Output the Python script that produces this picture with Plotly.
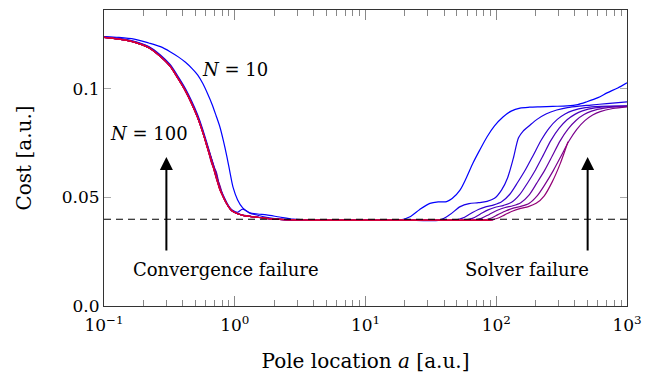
import plotly.graph_objects as go
import math

# ---------------- data ----------------
N_VALUES = [10, 20, 30, 40, 50, 60, 70, 80, 90, 100]

LEFT_A = [0.1, 0.13, 0.17, 0.22, 0.27, 0.32, 0.37, 0.42, 0.47, 0.52, 0.57, 0.62, 0.67,
          0.72, 0.77, 0.82, 0.87, 0.92, 0.97, 1.05, 1.15, 1.3, 1.5, 1.75, 2.2, 2.8, 4, 6, 10]

LEFT_C = {
    10: [0.1242, 0.1238, 0.1230, 0.1212, 0.1195, 0.1172, 0.1148, 0.1123, 0.1095, 0.1065, 0.1025, 0.0978, 0.0930,
         0.0877, 0.0825, 0.0760, 0.0690, 0.0615, 0.0548, 0.0490, 0.0452, 0.0430, 0.0424, 0.0420, 0.0410, 0.0400, 0.0396, 0.0396, 0.0396],
    20: [0.1240, 0.1233, 0.1220, 0.1196, 0.1157, 0.1113, 0.1056, 0.1001, 0.0942, 0.0881, 0.0813, 0.0740, 0.0672,
         0.0608, 0.0548, 0.0508, 0.0476, 0.0452, 0.0440, 0.0432, 0.0446, 0.0428, 0.0418, 0.0408, 0.0400, 0.0397, 0.0396, 0.0396, 0.0396],
    30: [0.1239, 0.1232, 0.1218, 0.1193, 0.1153, 0.1109, 0.1051, 0.0996, 0.0936, 0.0875, 0.0806, 0.0733, 0.0666,
         0.0602, 0.0541, 0.0504, 0.0473, 0.0450, 0.0437, 0.0427, 0.0419, 0.0414, 0.0409, 0.0404, 0.0399, 0.0397, 0.0396, 0.0396, 0.0396],
    40: [0.1238, 0.1231, 0.1217, 0.1191, 0.1151, 0.1107, 0.1049, 0.0993, 0.0933, 0.0871, 0.0802, 0.0729, 0.0672,
         0.0612, 0.0538, 0.0502, 0.0471, 0.0449, 0.0436, 0.0426, 0.0418, 0.0413, 0.0409, 0.0404, 0.0399, 0.0397, 0.0396, 0.0396, 0.0396],
    50: [0.1238, 0.1230, 0.1216, 0.1190, 0.1150, 0.1106, 0.1047, 0.0991, 0.0931, 0.0869, 0.0800, 0.0727, 0.0652,
         0.0620, 0.0545, 0.0501, 0.0470, 0.0448, 0.0435, 0.0425, 0.0418, 0.0413, 0.0409, 0.0404, 0.0399, 0.0397, 0.0396, 0.0396, 0.0396],
    60: [0.1238, 0.1230, 0.1216, 0.1190, 0.1149, 0.1105, 0.1046, 0.0990, 0.0930, 0.0868, 0.0799, 0.0736, 0.0668,
         0.0597, 0.0555, 0.0500, 0.0470, 0.0448, 0.0435, 0.0425, 0.0418, 0.0413, 0.0409, 0.0404, 0.0399, 0.0397, 0.0396, 0.0396, 0.0396],
    70: [0.1238, 0.1230, 0.1216, 0.1190, 0.1149, 0.1105, 0.1046, 0.0990, 0.0930, 0.0868, 0.0799, 0.0725, 0.0663,
         0.0590, 0.0540, 0.0500, 0.0470, 0.0448, 0.0435, 0.0425, 0.0418, 0.0413, 0.0409, 0.0404, 0.0399, 0.0397, 0.0396, 0.0396, 0.0396],
    80: [0.1238, 0.1230, 0.1216, 0.1190, 0.1149, 0.1104, 0.1046, 0.0990, 0.0930, 0.0868, 0.0799, 0.0725, 0.0658,
         0.0595, 0.0535, 0.0500, 0.0470, 0.0448, 0.0435, 0.0425, 0.0418, 0.0413, 0.0409, 0.0404, 0.0399, 0.0397, 0.0396, 0.0396, 0.0396],
    90: [0.1238, 0.1230, 0.1216, 0.1190, 0.1149, 0.1104, 0.1046, 0.0990, 0.0930, 0.0868, 0.0799, 0.0725, 0.0658,
         0.0595, 0.0535, 0.0500, 0.0470, 0.0448, 0.0435, 0.0425, 0.0418, 0.0413, 0.0409, 0.0404, 0.0399, 0.0397, 0.0396, 0.0396, 0.0396],
    100: [0.1238, 0.1230, 0.1216, 0.1190, 0.1149, 0.1105, 0.1046, 0.0990, 0.0930, 0.0868, 0.0799, 0.0725, 0.0658,
          0.0595, 0.0535, 0.0500, 0.0470, 0.0448, 0.0435, 0.0425, 0.0418, 0.0413, 0.0409, 0.0404, 0.0399, 0.0397, 0.0396, 0.0396, 0.0396],
}

RIGHT_A = {
    10: [15, 18.4, 21.9, 26, 31.1, 36, 41.7, 46, 52.8, 59, 66.4, 75, 84.9, 97, 112.6, 130, 152, 180, 216, 270, 348, 420,
         493, 600, 703, 850, 1000],
    20: [20, 37, 44, 53, 62, 73, 85, 97, 110, 122, 135, 148, 160, 180, 205, 240, 290, 350, 430, 530, 700, 1000],
    30: [20, 48, 55.2, 63.4, 73, 84, 96, 110, 127, 146, 168, 192, 221, 254, 293, 336, 384, 480, 624, 1000],
    40: [20, 57, 65.6, 75.2, 86.6, 99.8, 114, 131, 151, 174, 200, 228, 262, 302, 348, 399, 456, 570, 741, 1000],
    50: [20, 67, 77, 88.4, 102, 117, 134, 154, 178, 204, 235, 268, 308, 355, 409, 469, 536, 670, 871, 1000],
    60: [20, 78, 89.7, 103, 119, 137, 156, 179, 207, 238, 273, 312, 359, 413, 476, 546, 624, 780, 1000],
    70: [20, 88, 101, 116, 134, 154, 176, 202, 233, 268, 308, 354],
    80: [20, 40, 70, 95],
    90: [20, 40, 70, 92],
    100: [20, 40, 70, 90],
}

RIGHT_C = {
    10: [0.0396, 0.0396, 0.0411, 0.0445, 0.0473, 0.0480, 0.0481, 0.0495, 0.0534, 0.0590, 0.0659, 0.0720, 0.0779, 0.0830,
         0.0871, 0.0898, 0.0912, 0.0916, 0.0918, 0.0920, 0.0922, 0.0928, 0.0941, 0.0960, 0.0982, 0.1005, 0.1029],
    20: [0.0396, 0.0396, 0.0420, 0.0458, 0.0472, 0.0476, 0.0482, 0.0496, 0.0535, 0.0590, 0.0680, 0.0775, 0.0805, 0.0832,
         0.0860, 0.0885, 0.0903, 0.0914, 0.0921, 0.0926, 0.0933, 0.0941],
    30: [0.0396, 0.0396, 0.0405, 0.0425, 0.0445, 0.0458, 0.0466, 0.0480, 0.0515, 0.0570, 0.0630, 0.0695, 0.0765, 0.0820,
         0.0860, 0.0885, 0.0900, 0.0914, 0.0920, 0.0922],
    40: [0.0396, 0.0396, 0.0404, 0.0423, 0.0443, 0.0456, 0.0464, 0.0478, 0.0513, 0.0568, 0.0628, 0.0693, 0.0763, 0.0818,
         0.0858, 0.0883, 0.0899, 0.0913, 0.0919, 0.0921],
    50: [0.0396, 0.0396, 0.0404, 0.0422, 0.0441, 0.0454, 0.0462, 0.0476, 0.0511, 0.0566, 0.0626, 0.0691, 0.0761, 0.0816,
         0.0856, 0.0882, 0.0898, 0.0912, 0.0918, 0.0920],
    60: [0.0396, 0.0396, 0.0403, 0.0421, 0.0439, 0.0452, 0.0460, 0.0474, 0.0510, 0.0564, 0.0624, 0.0689, 0.0759, 0.0814,
         0.0854, 0.0880, 0.0896, 0.0910, 0.0918],
    70: [0.0396, 0.0396, 0.0403, 0.0420, 0.0438, 0.0450, 0.0458, 0.0473, 0.0508, 0.0572, 0.0655, 0.0757],
    80: [0.0396, 0.0396, 0.0396, 0.0396],
    90: [0.0396, 0.0396, 0.0396, 0.0396],
    100: [0.0396, 0.0396, 0.0396, 0.0396],
}

REFERENCE_A = [0.1, 1000]
REFERENCE_C = [0.04, 0.04]

X_TICKS = [0.1, 1, 10, 100, 1000]
X_TICK_TEXT = ["10<sup>−1</sup>", "10<sup>0</sup>", "10<sup>1</sup>", "10<sup>2</sup>", "10<sup>3</sup>"]
X_MINOR = [m * d for d in [0.1, 1, 10, 100] for m in range(2, 10)]
Y_TICKS = [0, 0.05, 0.1]
Y_TICK_TEXT = ["0.0", "0.05", "0.1"]

# ---------------- figure ----------------
FONT = "DejaVu Serif"


def colour(n):
    t = (n - 10) / 90
    r = round(220 * t)
    b = round(255 * (1 - t) + 50 * t)
    return f"rgb({r},0,{b})"


fig = go.Figure()
for n in N_VALUES:
    fig.add_trace(go.Scatter(
        x=LEFT_A + RIGHT_A[n], y=LEFT_C[n] + RIGHT_C[n], mode="lines",
        line=dict(color=colour(n), width=1.2, shape="spline", smoothing=0.8),
        showlegend=False, hoverinfo="skip"))

fig.add_trace(go.Scatter(x=REFERENCE_A, y=REFERENCE_C, mode="lines",
                         line=dict(color="black", width=1.1, dash="7px,5px"),
                         showlegend=False, hoverinfo="skip"))

annos = []
for txt, a, c in [("<i>N</i> = 10", 1.0, 0.1088), ("<i>N</i> = 100", 0.221, 0.0797),
                  ("Convergence failure", 0.857, 0.0166), ("Solver failure", 172, 0.0166)]:
    annos.append(dict(x=math.log10(a), y=c, xref="x", yref="y", text=txt, showarrow=False,
                      font=dict(family=FONT, size=18, color="black")))
for a in [0.3, 500]:
    annos.append(dict(x=math.log10(a), y=0.0687, ax=math.log10(a), ay=0.0249, xref="x", yref="y",
                      axref="x", ayref="y", text="", showarrow=True, arrowhead=2, arrowsize=1.3,
                      arrowwidth=2, arrowcolor="black", standoff=0, startstandoff=0))

fig.update_layout(
    width=656, height=373,
    margin=dict(l=104, r=29, t=10, b=67),
    paper_bgcolor="white", plot_bgcolor="white",
    font=dict(family=FONT, size=17, color="black"),
    annotations=annos,
    xaxis=dict(type="log", range=[-1, 3], tickvals=X_TICKS, ticktext=X_TICK_TEXT,
               ticks="inside", ticklen=10, tickcolor="#888", tickwidth=1,
               minor=dict(ticks="inside", ticklen=6, tickcolor="#888", tickvals=X_MINOR),
               showline=True, linecolor="#333", linewidth=1, mirror="ticks",
               showgrid=False, zeroline=False, automargin=False, ticklabelstandoff=4,
               title=dict(text="Pole location <i>a</i> [a.u.]", standoff=20)),
    yaxis=dict(range=[0, 0.1364], tickvals=Y_TICKS, ticktext=Y_TICK_TEXT,
               ticks="inside", ticklen=7, tickcolor="#aaa", tickwidth=1,
               showline=True, linecolor="#333", linewidth=1, mirror="ticks",
               showgrid=False, zeroline=False, automargin=False,
               title=dict(text="Cost [a.u.]", standoff=24)),
)

fig.write_html("out.html", config={"displayModeBar": False},
               post_script="document.body.style.margin='0px';")
